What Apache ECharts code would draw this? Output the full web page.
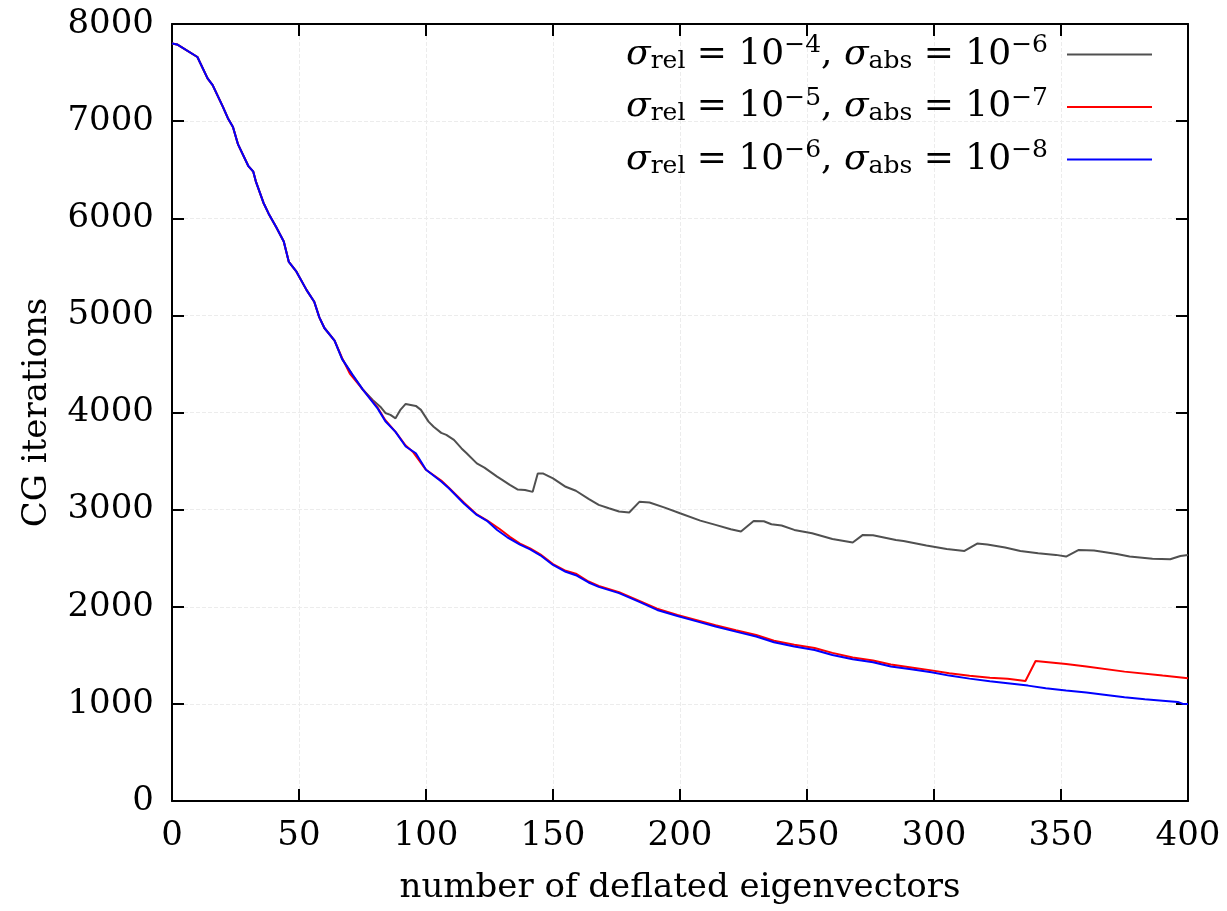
<!DOCTYPE html>
<html>
<head>
<meta charset="utf-8">
<script src="https://cdn.jsdelivr.net/npm/echarts@6/dist/echarts.min.js"></script>
<style>html,body{margin:0;padding:0;background:#fff}#c{width:1227px;height:911px}</style>
</head>
<body>
<div id="c"></div>
<script>
// shared beginning (all three runs coincide)
const common = [[0,7800],[2,7790],[10,7660],[14,7440],[16,7370],[20,7150],[22,7030],[24,6940],[26,6760],[30,6540],[32,6480],[33,6380],[36,6160],[38,6050],[41,5910],[44,5760],[46,5550],[49,5450],[53,5260],[56,5140],[58,4980],[60,4870],[64,4740]];

const grayTail = [[67,4550],[71,4390],[75,4240],[79,4130],[82,4060],[84,3995],[86,3975],[88,3940],[90,4030],[92,4088],[96,4068],[98,4027],[101,3906],[103,3853],[106,3790],[108,3770],[111,3718],[114,3630],[116,3580],[120,3476],[123,3433],[128,3340],[130,3306],[133,3254],[136,3208],[139,3203],[142,3183],[144,3373],[146,3373],[150,3322],[155,3235],[159,3194],[164,3110],[168,3049],[172,3014],[176,2980],[180,2970],[184,3080],[188,3073],[194,3021],[200,2963],[208,2887],[214,2843],[220,2798],[224,2774],[229,2884],[233,2880],[236,2850],[240,2836],[245,2791],[252,2757],[260,2698],[268,2661],[272,2740],[276,2736],[285,2688],[288,2678],[297,2630],[305,2595],[312,2575],[317,2650],[321,2640],[328,2609],[334,2575],[341,2551],[348,2534],[352,2517],[357,2585],[363,2578],[372,2544],[377,2517],[386,2493],[393,2489],[397,2523],[400,2534]];

const redTail = [[67,4560],[70,4400],[75,4240],[81,4050],[84,3920],[88,3800],[92,3660],[95,3590],[100,3410],[106,3300],[109,3225],[115,3070],[120,2950],[124,2890],[129,2800],[133,2720],[137,2650],[141,2600],[145,2540],[150,2440],[155,2370],[159,2340],[164,2260],[168,2215],[176,2150],[184,2060],[191,1980],[199,1915],[207,1860],[214,1810],[222,1758],[230,1710],[237,1650],[245,1608],[253,1575],[260,1525],[268,1478],[276,1447],[283,1405],[291,1375],[299,1345],[306,1315],[314,1290],[322,1270],[329,1258],[336,1236],[340,1442],[352,1411],[360,1384],[375,1332],[390,1291],[400,1265]];

const blueTail = [[67,4550],[71,4390],[75,4240],[81,4040],[84,3910],[88,3800],[92,3650],[96,3580],[100,3410],[106,3290],[109,3220],[115,3060],[120,2945],[124,2885],[128,2790],[132,2715],[137,2640],[141,2590],[145,2530],[150,2430],[155,2360],[159,2325],[164,2250],[168,2205],[176,2140],[184,2050],[191,1967],[199,1905],[207,1847],[214,1796],[222,1744],[230,1693],[237,1634],[245,1590],[253,1555],[260,1504],[268,1459],[276,1428],[283,1384],[291,1356],[299,1325],[306,1291],[314,1260],[322,1233],[329,1212],[337,1188],[344,1161],[352,1137],[360,1116],[367,1095],[375,1068],[383,1047],[390,1033],[396,1020],[398,1000],[400,1000]];

const xTicks = [0,50,100,150,200,250,300,350,400];
const yTicks = [0,1000,2000,3000,4000,5000,6000,7000,8000];
const seriesNames = ['a','b','c'];
const legendParts = [['−4','−6'],['−5','−7'],['−6','−8']];
const colors = ['#505050','#ff0000','#0000ff'];

const FONT = 'DejaVu Serif';
const FS = 34;
const chart = echarts.init(document.getElementById('c'), null, {renderer:'canvas'});

const axisCommon = {
  axisLine:{show:true,onZero:false,lineStyle:{color:'#000',width:2}},
  axisTick:{show:true,inside:true,length:12,lineStyle:{color:'#000',width:2}}
};

const rich = {
  s:{fontFamily:FONT,fontStyle:'italic',fontSize:36,color:'#000'},
  n:{fontFamily:FONT,fontSize:36,color:'#000'},
  sub:{fontFamily:FONT,fontSize:25,color:'#000',padding:[13,0,0,0]},
  sup:{fontFamily:FONT,fontSize:25,color:'#000',padding:[0,0,18,0]}
};

chart.setOption({
  animation:false,
  backgroundColor:'#fff',
  grid:{left:172,right:39,top:24,bottom:110},
  legend:{
    orient:'vertical', right:70, top:28, align:'right', itemGap:12,
    itemWidth:85, itemHeight:2, icon:'rect',
    data:seriesNames,
    formatter:function(name){
      const i = seriesNames.indexOf(name);
      const p = legendParts[i];
      return '{s|σ}{sub|rel}{n| = 10}{sup|'+p[0]+'}{n|, }{s|σ}{sub|abs}{n| = 10}{sup|'+p[1]+'}';
    },
    textStyle:{fontFamily:FONT,fontSize:36,color:'#000',rich:rich,padding:[0,14,0,0]}
  },
  xAxis:[
    Object.assign({type:'value',min:0,max:400,interval:50,
      name:'number of deflated eigenvectors',nameLocation:'middle',nameGap:70,
      nameTextStyle:{fontFamily:FONT,fontSize:FS,color:'#000'},
      axisLabel:{fontFamily:FONT,fontSize:FS,color:'#000',margin:18,
        formatter:v=>xTicks.includes(v)?String(v):''},
      splitLine:{show:true,lineStyle:{color:'#ececec',type:'dashed',width:1}}},axisCommon),
    Object.assign({type:'value',min:0,max:400,interval:50,position:'top',axisLabel:{show:false},splitLine:{show:false}},axisCommon)
  ],
  yAxis:[
    Object.assign({type:'value',min:0,max:8000,interval:1000,
      name:'CG iterations',nameLocation:'middle',nameGap:118,
      nameTextStyle:{fontFamily:FONT,fontSize:FS,color:'#000'},
      axisLabel:{fontFamily:FONT,fontSize:FS,color:'#000',margin:18,
        formatter:v=>yTicks.includes(v)?String(v):''},
      splitLine:{show:true,lineStyle:{color:'#ececec',type:'dashed',width:1}}},axisCommon),
    Object.assign({type:'value',min:0,max:8000,interval:1000,position:'right',axisLabel:{show:false},splitLine:{show:false}},axisCommon)
  ],
  series:[
    {name:'a',type:'line',data:common.concat(grayTail),showSymbol:false,lineStyle:{color:colors[0],width:2},itemStyle:{color:colors[0]}},
    {name:'b',type:'line',data:common.concat(redTail),showSymbol:false,lineStyle:{color:colors[1],width:2},itemStyle:{color:colors[1]}},
    {name:'c',type:'line',data:common.concat(blueTail),showSymbol:false,lineStyle:{color:colors[2],width:2},itemStyle:{color:colors[2]}}
  ]
});
</script>
</body>
</html>
